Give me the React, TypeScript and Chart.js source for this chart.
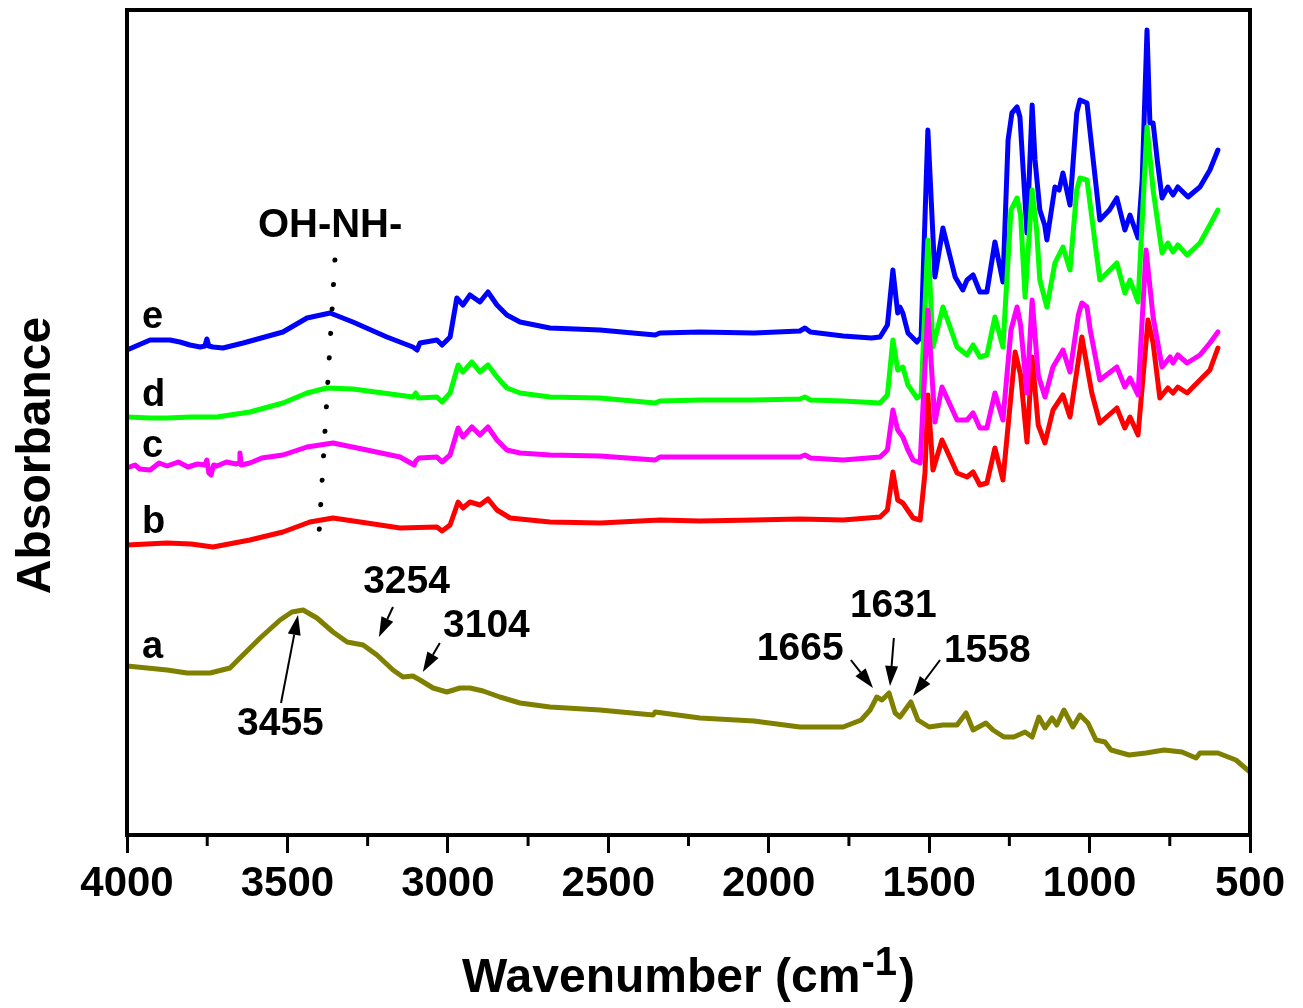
import React, { useEffect, useRef } from "react";
import { Chart, registerables } from "chart.js";

Chart.register(...registerables);

const FONT = "'Liberation Sans', Arial, Helvetica, sans-serif";

// x axis (wavenumber, cm-1), drawn reversed
const xMajorTicks = [4000, 3500, 3000, 2500, 2000, 1500, 1000, 500];
const xMinorTicks = [3750, 3250, 2750, 2250, 1750, 1250, 750];

// FTIR spectra: [wavenumber, absorbance (arb. units, stacked)]
const seriesE: [number, number][] = [
  [4000, 4.85], [3928, 4.95], [3866, 4.95], [3835, 4.93], [3804, 4.9], [3772, 4.88], [3757, 4.89], [3751, 4.96],
  [3745, 4.89], [3732, 4.88], [3701, 4.87], [3638, 4.92], [3514, 5.03], [3439, 5.17], [3367, 5.22], [3296, 5.13],
  [3190, 4.98], [3109, 4.88], [3096, 4.85], [3087, 4.92], [3034, 4.95], [3018, 4.9], [2993, 4.98], [2972, 5.37],
  [2953, 5.3], [2931, 5.4], [2900, 5.33], [2875, 5.43], [2847, 5.3], [2816, 5.2], [2775, 5.13], [2682, 5.07],
  [2526, 5.05], [2354, 5.0], [2339, 5.02], [2214, 5.03], [2046, 5.02], [1903, 5.04], [1887, 5.07], [1870, 5.03],
  [1768, 4.99], [1680, 4.97], [1653, 4.98], [1630, 5.1], [1613, 5.65], [1598, 5.22], [1591, 5.28], [1582, 5.22],
  [1566, 5.02], [1538, 4.93], [1525, 4.98], [1504, 7.05], [1482, 5.58], [1457, 6.07], [1419, 5.58], [1395, 5.45],
  [1382, 5.55], [1363, 5.6], [1342, 5.43], [1320, 5.43], [1295, 5.93], [1270, 5.53], [1254, 6.95], [1242, 7.22],
  [1226, 7.28], [1217, 7.18], [1195, 6.02], [1179, 7.3], [1170, 6.75], [1155, 6.25], [1140, 6.1], [1133, 5.95],
  [1108, 6.48], [1095, 6.45], [1083, 6.62], [1061, 6.3], [1040, 7.22], [1030, 7.35], [1008, 7.32], [998, 7.02],
  [968, 6.15], [938, 6.25], [915, 6.37], [890, 6.05], [874, 6.2], [849, 5.97], [836, 6.55], [821, 8.05],
  [812, 7.12], [802, 7.12], [788, 6.72], [774, 6.37], [756, 6.48], [740, 6.4], [725, 6.48], [693, 6.38],
  [675, 6.43], [656, 6.48], [625, 6.65], [600, 6.85],
];

const seriesD: [number, number][] = [
  [4000, 4.18], [3928, 4.17], [3875, 4.17], [3800, 4.18], [3720, 4.18], [3617, 4.23], [3514, 4.32], [3439, 4.42],
  [3377, 4.47], [3296, 4.46], [3202, 4.42], [3109, 4.38], [3100, 4.42], [3092, 4.37], [3034, 4.38], [3018, 4.33],
  [2993, 4.42], [2968, 4.7], [2953, 4.63], [2925, 4.73], [2900, 4.63], [2875, 4.7], [2847, 4.58], [2816, 4.47],
  [2775, 4.42], [2682, 4.38], [2526, 4.37], [2354, 4.32], [2339, 4.34], [2214, 4.35], [2046, 4.35], [1903, 4.36],
  [1887, 4.38], [1870, 4.35], [1768, 4.34], [1653, 4.32], [1630, 4.4], [1613, 4.95], [1598, 4.65], [1582, 4.68],
  [1566, 4.5], [1538, 4.37], [1525, 4.4], [1504, 5.95], [1488, 4.88], [1457, 5.28], [1413, 4.88], [1382, 4.8],
  [1363, 4.9], [1342, 4.78], [1320, 4.8], [1295, 5.18], [1270, 4.88], [1245, 6.25], [1226, 6.37], [1215, 6.2],
  [1201, 5.38], [1179, 6.45], [1165, 6.05], [1155, 5.55], [1133, 5.28], [1108, 5.72], [1083, 5.88], [1061, 5.65],
  [1040, 6.45], [1030, 6.57], [1008, 6.55], [998, 6.3], [968, 5.55], [915, 5.72], [890, 5.42], [874, 5.55],
  [849, 5.33], [821, 7.08], [802, 6.45], [774, 5.82], [756, 5.92], [740, 5.83], [725, 5.9], [696, 5.8],
  [656, 5.92], [625, 6.1], [600, 6.25],
];

const seriesC: [number, number][] = [
  [4000, 3.67], [3975, 3.7], [3960, 3.66], [3928, 3.65], [3900, 3.72], [3875, 3.69], [3840, 3.73], [3810, 3.68],
  [3780, 3.71], [3757, 3.7], [3751, 3.75], [3745, 3.62], [3738, 3.6], [3730, 3.7], [3720, 3.69], [3690, 3.73],
  [3660, 3.71], [3650, 3.72], [3648, 3.82], [3644, 3.7], [3617, 3.72], [3580, 3.77], [3514, 3.8], [3439, 3.88],
  [3358, 3.92], [3252, 3.85], [3149, 3.78], [3105, 3.7], [3100, 3.74], [3090, 3.77], [3034, 3.78], [3018, 3.73],
  [2993, 3.8], [2968, 4.07], [2953, 3.98], [2925, 4.08], [2900, 4.0], [2875, 4.08], [2847, 3.95], [2816, 3.85],
  [2775, 3.82], [2682, 3.8], [2526, 3.79], [2354, 3.75], [2339, 3.78], [2214, 3.78], [2046, 3.78], [1903, 3.78],
  [1887, 3.8], [1870, 3.77], [1768, 3.75], [1653, 3.78], [1630, 3.85], [1613, 4.25], [1598, 4.05], [1582, 3.98],
  [1566, 3.85], [1550, 3.75], [1528, 3.72], [1504, 5.25], [1482, 4.13], [1460, 4.48], [1413, 4.15], [1382, 4.15],
  [1363, 4.22], [1342, 4.07], [1320, 4.07], [1295, 4.42], [1270, 4.15], [1245, 5.05], [1226, 5.28], [1215, 5.1],
  [1195, 4.42], [1179, 5.35], [1160, 4.6], [1139, 4.38], [1114, 4.68], [1083, 4.85], [1061, 4.63], [1035, 5.2],
  [1024, 5.32], [1008, 5.28], [998, 5.05], [968, 4.55], [915, 4.68], [890, 4.48], [874, 4.57], [849, 4.4],
  [824, 5.85], [802, 5.18], [774, 4.68], [749, 4.78], [740, 4.72], [725, 4.8], [696, 4.72], [656, 4.8],
  [625, 4.92], [600, 5.03],
];

const seriesB: [number, number][] = [
  [4000, 2.9], [3875, 2.92], [3800, 2.91], [3732, 2.88], [3617, 2.95], [3514, 3.03], [3430, 3.13], [3358, 3.17],
  [3252, 3.12], [3149, 3.07], [3034, 3.08], [3018, 3.04], [2993, 3.1], [2968, 3.33], [2953, 3.27], [2931, 3.33],
  [2900, 3.3], [2875, 3.36], [2847, 3.25], [2806, 3.17], [2682, 3.13], [2526, 3.12], [2339, 3.15], [2214, 3.14],
  [2046, 3.15], [1903, 3.16], [1768, 3.15], [1653, 3.18], [1630, 3.25], [1613, 3.63], [1598, 3.35], [1582, 3.32],
  [1550, 3.17], [1528, 3.15], [1513, 3.62], [1504, 4.4], [1488, 3.65], [1460, 3.95], [1413, 3.62], [1382, 3.58],
  [1363, 3.63], [1342, 3.5], [1320, 3.52], [1295, 3.87], [1270, 3.55], [1232, 4.83], [1215, 4.6], [1195, 3.93],
  [1179, 4.78], [1160, 4.1], [1139, 3.92], [1114, 4.25], [1083, 4.4], [1061, 4.18], [1024, 4.98], [993, 4.42],
  [968, 4.12], [915, 4.27], [890, 4.07], [874, 4.18], [849, 4.0], [818, 5.15], [802, 4.92], [781, 4.37],
  [756, 4.47], [740, 4.42], [725, 4.48], [696, 4.42], [656, 4.55], [625, 4.65], [600, 4.87],
];

const seriesA: [number, number][] = [
  [4000, 1.69], [3875, 1.65], [3813, 1.62], [3741, 1.62], [3679, 1.67], [3648, 1.77], [3585, 1.97], [3523, 2.15],
  [3486, 2.23], [3451, 2.25], [3408, 2.17], [3358, 2.03], [3314, 1.93], [3264, 1.9], [3221, 1.8], [3171, 1.65],
  [3140, 1.58], [3109, 1.59], [3087, 1.55], [3046, 1.47], [3003, 1.43], [2962, 1.47], [2931, 1.47], [2890, 1.44],
  [2838, 1.38], [2775, 1.32], [2682, 1.28], [2526, 1.25], [2360, 1.2], [2354, 1.23], [2214, 1.17], [2046, 1.14],
  [1903, 1.08], [1768, 1.08], [1712, 1.15], [1684, 1.25], [1663, 1.38], [1647, 1.35], [1625, 1.42], [1606, 1.22],
  [1591, 1.18], [1557, 1.33], [1535, 1.15], [1500, 1.08], [1457, 1.1], [1413, 1.1], [1385, 1.22], [1363, 1.05],
  [1323, 1.12], [1301, 1.05], [1267, 0.98], [1236, 0.98], [1201, 1.03], [1179, 0.98], [1158, 1.18], [1139, 1.07],
  [1117, 1.17], [1102, 1.1], [1080, 1.25], [1052, 1.08], [1030, 1.2], [1005, 1.12], [980, 0.95], [952, 0.93],
  [933, 0.85], [877, 0.8], [824, 0.82], [768, 0.85], [712, 0.83], [668, 0.77], [656, 0.82], [600, 0.82],
  [544, 0.75], [500, 0.63],
];

// curve letters: [label, wavenumber, value] (left / baseline of text)
const curveLabels: [string, number, number][] = [
  ["e", 3953, 5.07],
  ["d", 3953, 4.29],
  ["c", 3953, 3.78],
  ["b", 3953, 3.02],
  ["a", 3953, 1.77],
];

// peak annotations: [text, textW, textV, tailW, tailV, tipW, tipV]
const peakNotes: [string, number, number, number, number, number, number][] = [
  ["3455", 3657, 1.0, 3520, 1.32, 3467, 2.2],
  ["3254", 3264, 2.42, 3171, 2.28, 3215, 1.98],
  ["3104", 3015, 1.98, 3025, 1.92, 3078, 1.63],
  ["1665", 2037, 1.75, 1744, 1.75, 1675, 1.47],
  ["1631", 1747, 2.18, 1610, 1.97, 1622, 1.49],
  ["1558", 1454, 1.73, 1466, 1.75, 1550, 1.39],
];

// OH-NH- marker: label position and dotted guide line end points
const ohLabel: [string, number, number] = ["OH-NH-", 3592, 5.98];
const ohGuide: [number, number][] = [
  [3352, 5.75],
  [3405, 2.82],
];

const toXY = (s: [number, number][]) => s.map(([x, y]) => ({ x, y }));

function drawArrow(ctx: CanvasRenderingContext2D, x1: number, y1: number, x2: number, y2: number) {
  const ang = Math.atan2(y2 - y1, x2 - x1);
  const len = Math.hypot(x2 - x1, y2 - y1);
  const head = Math.min(20, len * 0.6);
  const half = 6.5;
  const bx = x2 - head * Math.cos(ang);
  const by = y2 - head * Math.sin(ang);
  ctx.lineWidth = 2;
  ctx.beginPath();
  ctx.moveTo(x1, y1);
  ctx.lineTo(bx, by);
  ctx.stroke();
  ctx.beginPath();
  ctx.moveTo(x2, y2);
  ctx.lineTo(bx + half * Math.sin(ang), by - half * Math.cos(ang));
  ctx.lineTo(bx - half * Math.sin(ang), by + half * Math.cos(ang));
  ctx.closePath();
  ctx.fill();
}

const decorPlugin = {
  id: "decor",
  afterDatasetsDraw(chart: any) {
    const { ctx, chartArea: a, scales } = chart;
    const xs = scales.x;
    const ys = scales.y;
    const X = (v: number) => xs.getPixelForValue(v);
    const Y = (v: number) => ys.getPixelForValue(v);
    ctx.save();
    ctx.fillStyle = "#000";
    ctx.strokeStyle = "#000";

    // frame
    ctx.lineWidth = 4;
    ctx.lineJoin = "miter";
    ctx.strokeRect(a.left, a.top, a.right - a.left, a.bottom - a.top);

    // minor ticks
    ctx.lineWidth = 3;
    for (const t of xMinorTicks) {
      const px = X(t);
      ctx.beginPath();
      ctx.moveTo(px, a.bottom);
      ctx.lineTo(px, a.bottom + 11);
      ctx.stroke();
    }

    // curve letters
    ctx.font = `bold 38px ${FONT}`;
    ctx.textAlign = "left";
    ctx.textBaseline = "alphabetic";
    for (const [t, w, v] of curveLabels) ctx.fillText(t, X(w), Y(v));

    // OH-NH- label and dotted guide
    ctx.font = `bold 40px ${FONT}`;
    ctx.fillText(ohLabel[0], X(ohLabel[1]), Y(ohLabel[2]));
    ctx.save();
    ctx.lineWidth = 5;
    ctx.lineCap = "round";
    ctx.setLineDash([0.1, 24.4]);
    ctx.beginPath();
    ctx.moveTo(X(ohGuide[0][0]), Y(ohGuide[0][1]));
    ctx.lineTo(X(ohGuide[1][0]), Y(ohGuide[1][1]));
    ctx.stroke();
    ctx.restore();

    // peak annotations
    ctx.font = `bold 39px ${FONT}`;
    for (const [t, tw, tv, aw, av, pw, pv] of peakNotes) {
      ctx.fillText(t, X(tw), Y(tv));
      drawArrow(ctx, X(aw), Y(av), X(pw), Y(pv));
    }

    // axis titles
    const mainT = "Wavenumber (cm";
    const supT = "-1";
    const closeT = ")";
    ctx.font = `bold 48px ${FONT}`;
    const wMain = ctx.measureText(mainT).width;
    const wClose = ctx.measureText(closeT).width;
    ctx.font = `bold 40px ${FONT}`;
    const wSup = ctx.measureText(supT).width;
    const total = wMain + wSup + 3 + wClose;
    let sx = (a.left + a.right) / 2 - total / 2;
    const base = a.bottom + 157;
    ctx.font = `bold 48px ${FONT}`;
    ctx.fillText(mainT, sx, base);
    sx += wMain + 1;
    ctx.font = `bold 40px ${FONT}`;
    ctx.fillText(supT, sx, base - 17);
    sx += wSup + 2;
    ctx.font = `bold 48px ${FONT}`;
    ctx.fillText(closeT, sx, base);

    ctx.save();
    ctx.translate(a.left - 77, (a.top + a.bottom) / 2 + 33);
    ctx.rotate(-Math.PI / 2);
    ctx.textAlign = "center";
    ctx.fillText("Absorbance", 0, 0);
    ctx.restore();

    ctx.restore();
  },
};

export default function App() {
  const ref = useRef<HTMLCanvasElement | null>(null);

  useEffect(() => {
    if (!ref.current) return;
    const mk = (data: [number, number][], color: string, order: number) => ({
      data: toXY(data),
      borderColor: color,
      backgroundColor: color,
      borderWidth: 5,
      pointRadius: 0,
      tension: 0,
      fill: false,
      order,
      borderJoinStyle: "round" as const,
      borderCapStyle: "round" as const,
    });
    const chart = new Chart(ref.current, {
      type: "line",
      data: {
        datasets: [
          mk(seriesA, "#808000", 0),
          mk(seriesC, "#FF00FF", 1),
          mk(seriesB, "#FF0000", 2),
          mk(seriesD, "#00FF00", 3),
          mk(seriesE, "#0000FF", 4),
        ],
      },
      options: {
        responsive: false,
        animation: false,
        events: [],
        layout: { padding: { left: 0, right: 53, top: 10, bottom: 0 } },
        plugins: { legend: { display: false }, tooltip: { enabled: false }, title: { display: false } },
        scales: {
          x: {
            type: "linear",
            reverse: true,
            min: 500,
            max: 4000,
            afterBuildTicks: (s: any) => {
              s.ticks = xMajorTicks.map((v) => ({ value: v }));
            },
            afterFit: (s: any) => {
              s.height = 173;
            },
            ticks: {
              autoSkip: false,
              maxRotation: 0,
              padding: 6,
              color: "#000",
              font: { family: FONT, weight: "bold", size: 42 },
              callback: (v: any) => String(v),
            },
            grid: {
              display: true,
              drawOnChartArea: false,
              drawTicks: true,
              tickLength: 18,
              tickWidth: 3,
              tickColor: "#000",
              color: "#000",
            },
            border: { display: false },
          },
          y: {
            type: "linear",
            min: 0,
            max: 8.25,
            afterFit: (s: any) => {
              s.width = 127;
            },
            ticks: { display: false },
            grid: { display: false },
            border: { display: false },
          },
        },
      },
      plugins: [decorPlugin],
    });
    return () => chart.destroy();
  }, []);

  return (
    <div style={{ position: "fixed", left: 0, top: 0, width: 1303, height: 1008, background: "#fff" }}>
      <canvas ref={ref} width={1303} height={1008} style={{ display: "block" }} />
    </div>
  );
}
